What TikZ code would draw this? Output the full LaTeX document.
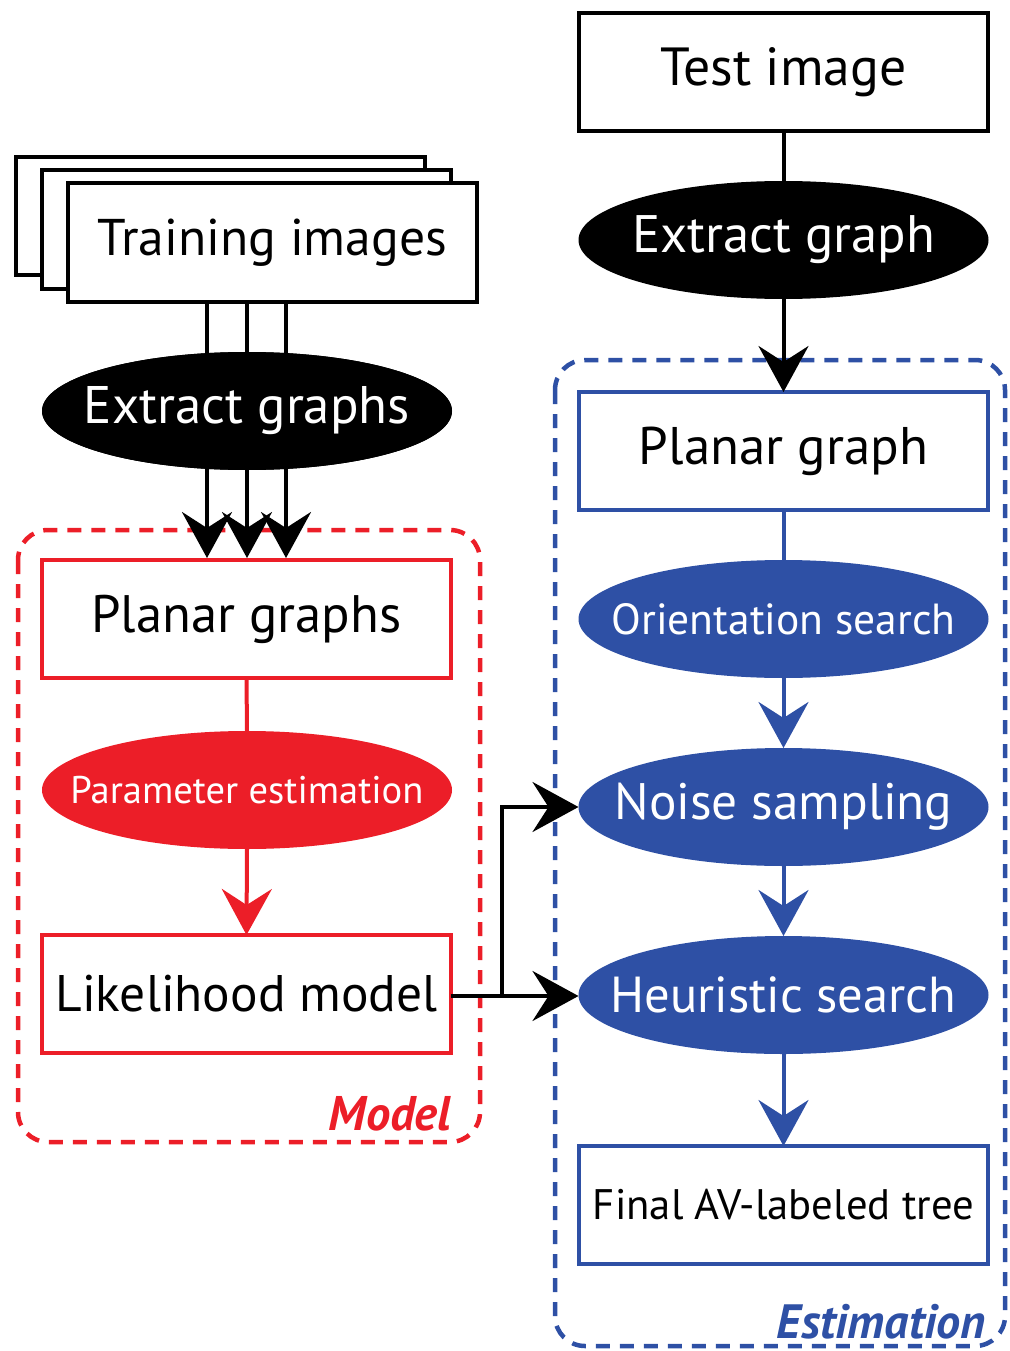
\documentclass[tikz,border=0pt]{standalone}
\usepackage{fontspec}
\setmainfont{PT Sans}
\usetikzlibrary{shapes.geometric,arrows.meta,calc}
\definecolor{mred}{RGB}{236,30,40}
\definecolor{mblue}{RGB}{46,80,165}
\newcommand{\fitw}[2]{\resizebox{#1}{!}{#2}}
\begin{document}
\begin{tikzpicture}[x=1pt,y=-1pt,
  box/.style={draw=black,line width=4pt,fill=white,minimum width=409pt,minimum height=118pt,inner sep=0pt,outer sep=0pt,font=\fontsize{44}{50}\selectfont},
  rbox/.style={box,draw=mred},
  bbox/.style={box,draw=mblue},
  ell/.style={ellipse,minimum width=410pt,minimum height=118pt,inner sep=0pt,outer sep=0pt,text=white,font=\fontsize{44}{50}\selectfont},
  arr/.style={line width=4pt,-{Stealth[length=46pt,width=50pt,inset=16pt]}},
  ln/.style={line width=4pt},
  dbox/.style={line width=4.5pt,dash pattern=on 14pt off 10pt,rounded corners=30pt}
]
\useasboundingbox (0,0) rectangle (1009,1351);
% dashed groups
\draw[dbox,draw=mred] (18,530) rectangle (480,1142);
\draw[dbox,draw=mblue] (555,360) rectangle (1005,1346);
% right column
\node[box] (ti) at (783.5,72) {\fitw{246pt}{Test image}};
\node[ell,fill=black] (eg) at (783.5,240) {\makebox[0pt]{\fitw{303pt}{Extract graph}}};
\node[bbox] (pg) at (783.5,451) {\fitw{289pt}{Planar graph}};
\node[ell,fill=mblue] (os) at (783.5,619) {\makebox[0pt]{\fitw{344pt}{Orientation search}}};
\node[ell,fill=mblue] (ns) at (783.5,807) {\makebox[0pt]{\fitw{338pt}{Noise sampling}}};
\node[ell,fill=mblue] (hs) at (783.5,995) {\makebox[0pt]{\fitw{346pt}{Heuristic search}}};
\node[bbox] (fa) at (783.5,1205) {\fitw{381pt}{Final AV-labeled tree}};
% left column
\draw[ln,fill=white] (16,157) rectangle (425,275);
\draw[ln,fill=white] (42,170) rectangle (451,289);
\node[box] (tr) at (272.5,242.5) {\fitw{349pt}{Training images}};
\node[ell,fill=black] (egs) at (247,411) {\makebox[0pt]{\fitw{326pt}{Extract graphs}}};
\node[rbox] (pgs) at (246.5,619) {\fitw{310pt}{Planar graphs}};
\node[ell,fill=mred] (pe) at (247,790) {\makebox[0pt]{\fitw{353pt}{Parameter estimation}}};
\node[rbox] (lm) at (246.5,994) {\fitw{382pt}{Likelihood model}};
% labels
\node[anchor=south east,inner sep=0pt,text=mred,font=\fontsize{40}{44}\selectfont\bfseries\itshape] (ml) at (451,1131) {\fitw{122pt}{Model}};
\node[anchor=south east,inner sep=0pt,text=mblue,font=\fontsize{40}{44}\selectfont\bfseries\itshape] (el) at (986,1339) {\fitw{209pt}{Estimation}};
% connectors right
\draw[ln] (ti.south) -- (eg.north);
\draw[arr] (eg.south) -- (pg.north);
\draw[ln,draw=mblue] (pg.south) -- (os.north);
\draw[arr,draw=mblue,fill=mblue] (os.south) -- (ns.north);
\draw[arr,draw=mblue,fill=mblue] (ns.south) -- (hs.north);
\draw[arr,draw=mblue,fill=mblue] (hs.south) -- (fa.north);
% connectors left
\foreach \dx in {-40,0,39} {
  \draw[ln] ($(tr.south -| egs.center)+(\dx,0)$) -- ($(egs.center)+(\dx,0)$);
  \draw[arr] ($(egs.center)+(\dx,40)$) -- ($(pgs.north)+(\dx+0.5,-2)$);
}
\node[ell,fill=black] at (egs) {\makebox[0pt]{\fitw{326pt}{Extract graphs}}};
\draw[ln,draw=mred] (pgs.south) -- (pe.north);
\draw[arr,draw=mred,fill=mred] (pe.south) -- (lm.north);
\coordinate (br) at ($(lm.east)+(51,2)$);
\draw[arr] ($(lm.east)+(0,2)$) -- ($(hs.west)+(0,1)$);
\draw[arr] (br) |- (ns.west);
\end{tikzpicture}
\end{document}
